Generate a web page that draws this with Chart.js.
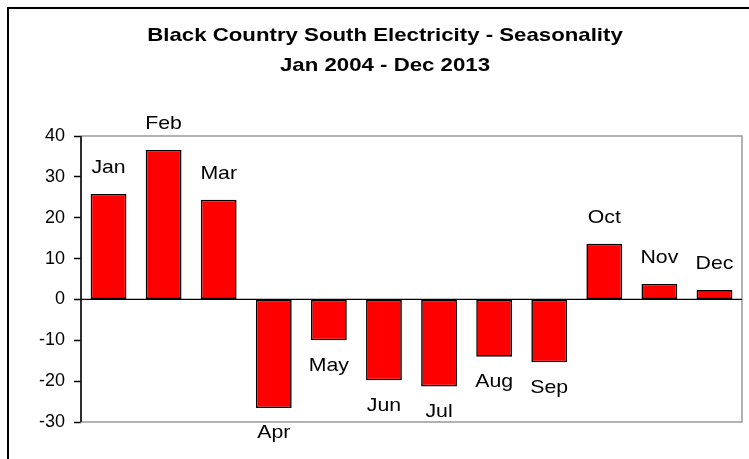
<!DOCTYPE html>
<html>
<head>
<meta charset="utf-8">
<script src="https://cdn.jsdelivr.net/npm/chart.js@4.4.0/dist/chart.umd.min.js"></script>
<style>
    html, body { margin: 0; padding: 0; background: #fff; overflow: hidden; }
    #frame { position: absolute; left: 7px; top: 7px; width: 800px; height: 500px; border: 2px solid #000; }
    #wrap { position: absolute; left: 0; top: 0; width: 749px; height: 459px; }
</style>
</head>
<body>
<div id="frame"></div>
<div id="wrap"><canvas id="seasonChart" width="749" height="459"></canvas></div>
<script>
const months = ['Jan', 'Feb', 'Mar', 'Apr', 'May', 'Jun', 'Jul', 'Aug', 'Sep', 'Oct', 'Nov', 'Dec'];
const seasonality = [25.8, 36.6, 24.4, -26.6, -10.0, -19.8, -21.3, -14.0, -15.4, 13.6, 3.8, 2.3];
const yTicks = [-30, -20, -10, 0, 10, 20, 30, 40];
const titleLines = ['Black Country South Electricity - Seasonality', 'Jan 2004 - Dec 2013'];

const FONT = '"Liberation Sans", Arial, sans-serif';

// kotak abu-abu di sekeliling area plot + garis nol + sumbu y
const plotBorder = {
    id: 'plotBorder',
    beforeDatasetsDraw(chart) {
        const { ctx, chartArea: a } = chart;
        ctx.save();
        ctx.strokeStyle = '#999';
        ctx.lineWidth = 1.5;
        ctx.strokeRect(a.left, a.top, a.right - a.left, a.bottom - a.top);
        const y0 = chart.scales.y.getPixelForValue(0);
        ctx.strokeStyle = '#000';
        ctx.lineWidth = 1.2;
        ctx.beginPath();
        ctx.moveTo(a.left, y0);
        ctx.lineTo(a.right, y0);
        ctx.stroke();
        ctx.lineWidth = 1.5;
        ctx.beginPath();
        ctx.moveTo(a.left, a.top);
        ctx.lineTo(a.left, a.bottom);
        ctx.stroke();
        ctx.restore();
    }
};

// teks sedikit dilebarkan seperti di gambar asli
function wideText(ctx, text, x, y, stretch) {
    ctx.save();
    ctx.translate(x, y);
    ctx.scale(stretch, 1);
    ctx.fillText(text, 0, 0);
    ctx.restore();
}

// nama bulan di ujung batang
const barLabels = {
    id: 'barLabels',
    afterDatasetsDraw(chart) {
        const { ctx } = chart;
        const meta = chart.getDatasetMeta(0);
        ctx.save();
        ctx.font = '19px ' + FONT;
        ctx.fillStyle = '#000';
        ctx.textAlign = 'center';
        ctx.textBaseline = 'middle';
        meta.data.forEach((bar, i) => {
            const y = seasonality[i] >= 0 ? bar.y - 26 : bar.y + 25;
            wideText(ctx, months[i], bar.x, y, 1.12);
        });
        ctx.restore();
    }
};

// judul dua baris
const chartTitle = {
    id: 'chartTitle',
    afterDraw(chart) {
        const { ctx } = chart;
        ctx.save();
        ctx.font = 'bold 19px ' + FONT;
        ctx.fillStyle = '#000';
        ctx.textAlign = 'center';
        ctx.textBaseline = 'middle';
        titleLines.forEach((line, i) => {
            wideText(ctx, line, 385, 36 + i * 29.5, 1.17);
        });
        ctx.restore();
    }
};

const ctx = document.getElementById('seasonChart').getContext('2d');
new Chart(ctx, {
    type: 'bar',
    data: {
        labels: months,
        datasets: [{
            data: seasonality,
            backgroundColor: '#ff0000',
            borderColor: '#000',
            borderWidth: 1.6,
            borderSkipped: false,
            categoryPercentage: 0.65,
            barPercentage: 1.0
        }]
    },
    options: {
        responsive: false,
        animation: false,
        layout: { padding: { left: 28, right: 7, top: 136, bottom: 37 } },
        plugins: {
            legend: { display: false },
            tooltip: { enabled: false },
            title: { display: false }
        },
        scales: {
            x: {
                display: false,
                grid: { display: false }
            },
            y: {
                min: -30,
                max: 40,
                afterBuildTicks: scale => { scale.ticks = yTicks.map(v => ({ value: v })); },
                afterFit: scale => { scale.width = 53; },
                border: { display: false },
                grid: {
                    drawOnChartArea: false,
                    drawTicks: true,
                    tickLength: 7,
                    tickColor: '#000',
                    tickWidth: 1.5
                },
                ticks: {
                    color: '#000',
                    padding: 9,
                    font: { family: FONT, size: 18 }
                }
            }
        }
    },
    plugins: [plotBorder, barLabels, chartTitle]
});
</script>
</body>
</html>
